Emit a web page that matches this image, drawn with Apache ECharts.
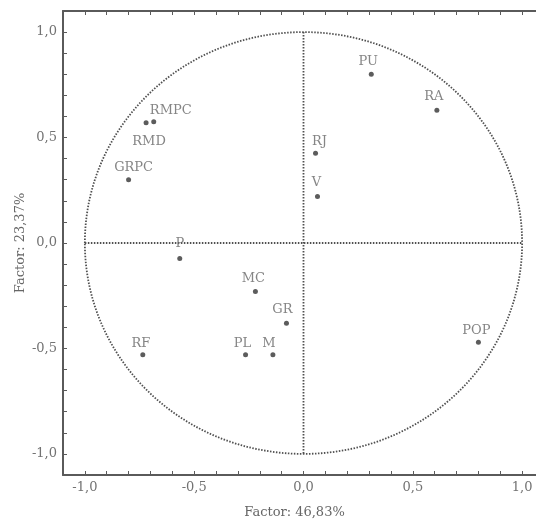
<!DOCTYPE html>
<html>
<head>
<meta charset="utf-8">
<script src="https://cdn.jsdelivr.net/npm/echarts@6/dist/echarts.min.js"></script>
<style>
html,body{margin:0;padding:0;background:#fff;}
#chart{width:536px;height:522px;}
</style>
</head>
<body>
<div id="chart"></div>
<script>
// ---- data ----
const variableNames = ['PU','RA','RMPC','RMD','GRPC','RJ','V','P','MC','GR','RF','PL','M','POP'];
const factor1 = [0.31, 0.61, -0.685, -0.72, -0.80, 0.055, 0.064, -0.566, -0.22, -0.078, -0.735, -0.265, -0.14, 0.80];
const factor2 = [0.80, 0.63, 0.575, 0.57, 0.30, 0.425, 0.22, -0.074, -0.23, -0.38, -0.53, -0.53, -0.53, -0.47];
const xAxisTitle = 'Factor: 46,83%';
const yAxisTitle = 'Factor: 23,37%';
const axisMin = -1.1, axisMax = 1.1, tickStep = 0.1;

// ---- styling (label offsets relative to the dot) ----
const labelOffsets = {
  PU:[-3,-13], RA:[-3,-14], RMPC:[17,-11], RMD:[3,19], GRPC:[5,-12],
  RJ:[4,-12], V:[-1,-14], P:[0,-15], MC:[-2,-13], GR:[-4,-14],
  RF:[-2,-11], PL:[-3,-11], M:[-4,-11], POP:[-2,-12]
};

const serif = '"DejaVu Serif", "Liberation Serif", serif';
const textColor = '#666666';
const axisColor = '#5a5a5a';

function fmt(v){
  const k = Math.round(v*10);
  if (k % 5 !== 0) return '';
  return (k/10).toFixed(1).replace('.', ',');
}

const points = variableNames.map((n,i)=>({
  name:n,
  value:[factor1[i], factor2[i]],
  label:{offset:labelOffsets[n]}
}));

const chart = echarts.init(document.getElementById('chart'), null, {renderer:'canvas'});

const baseAxis = {
  type:'value', min:axisMin, max:axisMax, interval:tickStep,
  axisLine:{show:true, onZero:false, lineStyle:{color:axisColor, width:2}},
  axisTick:{show:true, inside:true, length:4, lineStyle:{color:axisColor, width:1}},
  splitLine:{show:false},
  axisLabel:{formatter:fmt, color:'#737373', fontFamily:serif, fontSize:13, margin:6,
             showMinLabel:true, showMaxLabel:true}
};

chart.setOption({
  animation:false,
  backgroundColor:'#fff',
  grid:{left:63, top:11, right:-8, bottom:47, containLabel:false, outerBoundsMode:'none'},
  xAxis:[
    Object.assign({}, baseAxis, {
      position:'bottom', name:xAxisTitle, nameLocation:'middle', nameGap:31, nameMoveOverlap:false,
      nameTextStyle:{color:textColor, fontFamily:serif, fontSize:13, padding:[0,18,0,0]}
    }),
    Object.assign({}, baseAxis, {position:'top', axisLabel:{show:false}})
  ],
  yAxis:[
    Object.assign({}, baseAxis, {
      position:'left', name:yAxisTitle, nameLocation:'middle', nameGap:36, nameRotate:90,
      nameMoveOverlap:false,
      nameTextStyle:{color:textColor, fontFamily:serif, fontSize:13}
    })
  ],
  series:[
    {
      type:'custom',
      xAxisIndex:0, yAxisIndex:0,
      data:[[0,0]],
      silent:true,
      clip:true,
      z:1,
      renderItem:function(params, api){
        const c = api.coord([0,0]);
        const px = api.coord([1,0]);
        const py = api.coord([0,1]);
        const l = api.coord([-1,0]);
        const b = api.coord([0,-1]);
        const style = {stroke:'#505050', fill:null, lineWidth:1.8, lineDash:[1.5,1.5]};
        return {
          type:'group',
          children:[
            {type:'ellipse', shape:{cx:c[0], cy:c[1], rx:px[0]-c[0], ry:c[1]-py[1]}, style:style},
            {type:'line', shape:{x1:l[0], y1:c[1], x2:px[0], y2:c[1]}, style:style},
            {type:'line', shape:{x1:c[0], y1:py[1], x2:c[0], y2:b[1]}, style:style}
          ]
        };
      }
    },
    {
      type:'scatter',
      xAxisIndex:0, yAxisIndex:0,
      data:points,
      symbol:'circle',
      symbolSize:5,
      itemStyle:{color:'#333333'},
      z:3,
      label:{
        show:true, position:'inside', formatter:'{b}',
        color:textColor, fontFamily:serif, fontSize:13,
        align:'center', verticalAlign:'middle'
      }
    }
  ]
});
</script>
</body>
</html>
